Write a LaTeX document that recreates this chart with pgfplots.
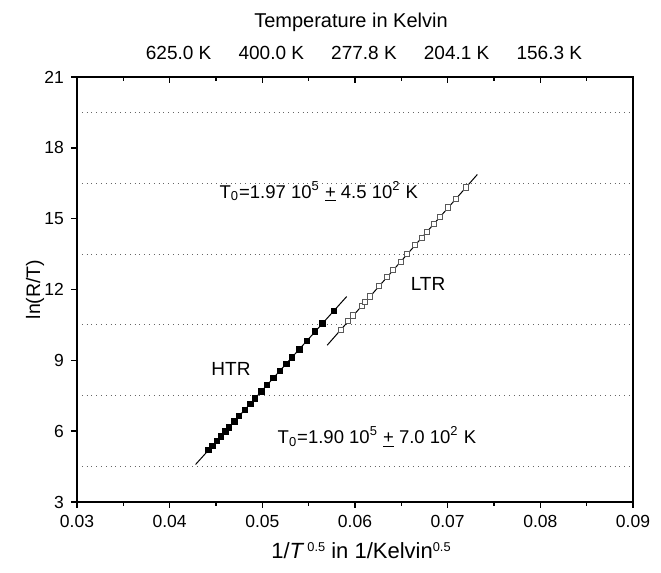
\documentclass[border=0pt]{standalone}
\usepackage{fontspec}
\setmainfont{Liberation Sans}
\usepackage{pgfplots}
\pgfplotsset{compat=1.18}
\begin{document}
\begin{tikzpicture}
\useasboundingbox (-38.5pt,-35.5pt) rectangle (292pt,251pt);
\begin{axis}[
  at={(0,0)}, anchor=south west,
  scale only axis, width=278pt, height=212.5pt,
  xmin=0.03, xmax=0.09, ymin=3, ymax=21,
  xtick={0.03,0.04,...,0.09}, minor xtick={0.035,0.045,...,0.085},
  ytick={3,6,...,21}, minor ytick={4.5,7.5,...,19.5},
  tick pos=left, tick align=outside,
  major tick length=3pt, minor tick length=1.8pt,
  minor y tick style={draw=none},
  yminorgrids=true,
  minor grid style={black!60, dotted, line width=0.45pt},
  axis line style={line width=0.8pt},
  every tick/.style={line width=0.8pt, black},
  scaled ticks=false,
  xticklabel style={/pgf/number format/fixed, /pgf/number format/precision=2, /pgf/number format/fixed zerofill},
  /pgf/number format/assume math mode=true,
  tick label style={font=\fontsize{8.75}{10}\selectfont},
  xlabel={1/\textit{T}\hspace{1.5pt}{\fontsize{6.4}{7}\selectfont\raisebox{3.6pt}{0.5}} in 1/Kelvin{\fontsize{6.4}{7}\selectfont\raisebox{3.6pt}{0.5}}},
  ylabel={ln(R/T)},
  xlabel style={font=\fontsize{11}{12}\selectfont, at={(axis description cs:0.5,0)}, anchor=base, xshift=3pt, yshift=-28.5pt},
  ylabel style={font=\fontsize{9.75}{11}\selectfont, at={(axis description cs:-0.0755,0.5)}, anchor=center, rotate=0},
  clip=false,
]
\addplot[black, line width=0.5pt] coordinates {(0.0428,4.59) (0.0591,11.70)};
\addplot[black, line width=0.5pt] coordinates {(0.0570,9.64) (0.0732,16.87)};
\addplot[only marks, mark=square*, mark size=1.35pt, mark options={fill=black, draw=black}] coordinates {
(0.0442,5.20) (0.0446,5.38) (0.0451,5.59) (0.0455,5.77) (0.0460,5.99) (0.0464,6.16)
(0.0470,6.42) (0.0475,6.64) (0.0481,6.90) (0.0487,7.16) (0.0492,7.38) (0.0499,7.69)
(0.0505,7.95) (0.0512,8.25) (0.0519,8.56) (0.0526,8.86) (0.0532,9.13) (0.0540,9.47)
(0.0548,9.82) (0.0557,10.22) (0.0565,10.56) (0.0577,11.09)};
\addplot[only marks, mark=square*, mark size=1.3pt, mark options={fill=white, draw=black!65, line width=0.5pt}] coordinates {
(0.05846,10.29) (0.05928,10.66) (0.05982,10.90) (0.06072,11.30) (0.06108,11.46)
(0.06162,11.70) (0.06262,12.15) (0.06348,12.53) (0.06413,12.82) (0.06493,13.18)
(0.06564,13.50) (0.06647,13.87) (0.06720,14.19) (0.06774,14.43) (0.06852,14.78)
(0.06917,15.07) (0.07007,15.47) (0.07090,15.84) (0.07198,16.32)};
\node[font=\fontsize{9.25}{11}\selectfont] at (axis cs:0.0561,16.14) {T\textsubscript{0}=1.97 10\textsuperscript{5} \underline{+} 4.5 10\textsuperscript{2} K};
\node[font=\fontsize{9.25}{11}\selectfont] at (axis cs:0.06237,5.75) {T\textsubscript{0}=1.90 10\textsuperscript{5} \underline{+} 7.0 10\textsuperscript{2} K};
\node[font=\fontsize{9.5}{11}\selectfont] at (axis cs:0.04662,8.64) {HTR};
\node[font=\fontsize{9.5}{11}\selectfont] at (axis cs:0.06788,12.24) {LTR};
\end{axis}
\begin{axis}[
  at={(0,0)}, anchor=south west,
  scale only axis, width=278pt, height=212.5pt,
  xmin=0.03, xmax=0.09, ymin=3, ymax=21,
  axis x line*=top, axis y line=none,
  scaled ticks=false,
  xtick={0.04,0.05,...,0.08},
  xticklabels={625.0 K,400.0 K,277.8 K,204.1 K,156.3 K},
  minor xtick={0.035,0.045,...,0.085},
  tick align=inside,
  major tick length=3pt, minor tick length=1.8pt,
  axis line style={line width=0.8pt},
  every tick/.style={line width=0.8pt, black},
  tick label style={font=\fontsize{9.5}{10}\selectfont},
  xticklabel style={yshift=5pt, xshift=4.5pt},
  xlabel={Temperature in Kelvin},
  xlabel style={font=\fontsize{10}{11}\selectfont, at={(axis description cs:0.5,1)}, anchor=center, xshift=-2pt, yshift=27.5pt},
]
\addplot[draw=none] coordinates {(0.05,10)};
\end{axis}
\end{tikzpicture}
\end{document}
